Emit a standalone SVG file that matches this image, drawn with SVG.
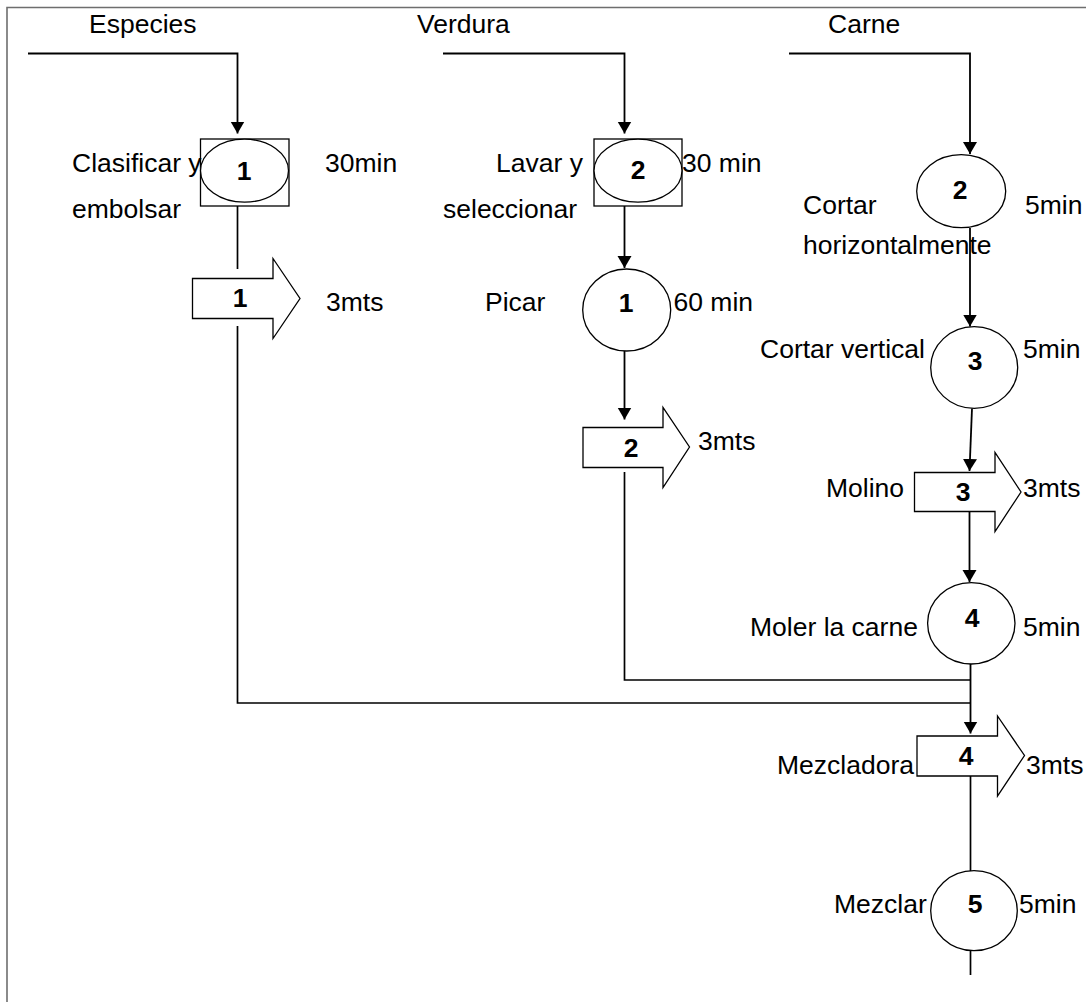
<svg xmlns="http://www.w3.org/2000/svg" width="1086" height="1002" viewBox="0 0 1086 1002">
<defs>
<marker id="ah" markerUnits="userSpaceOnUse" markerWidth="16" markerHeight="16" refX="12" refY="7" orient="auto">
<path d="M0,0 L12,7 L0,14 Z" fill="#000"/>
</marker>
<style>
.t{font-family:"Liberation Sans",Arial,sans-serif;font-size:26.5px;fill:#000}
.n{font-family:"Liberation Sans",Arial,sans-serif;font-size:26.5px;font-weight:bold;fill:#000;text-anchor:middle}
.c{fill:none;stroke:#000;stroke-width:1.7}
.ca{fill:none;stroke:#000;stroke-width:1.8;marker-end:url(#ah)}
.s{fill:#fff;stroke:#000;stroke-width:1.3}
.b{fill:none;stroke:#6e6e6e;stroke-width:1.6}
</style>
</defs>
<rect width="1086" height="1002" fill="#fff"/>
<g id="border">
<path class="b" d="M7,1002 V7.5 H1086"/>
</g>
<g id="connectors">
<path class="ca" d="M28,53.5 H237.5 V133.5"/>
<path class="c" d="M237.5,206 V269"/>
<path class="c" d="M237.5,326 V703 H970"/>
<path class="ca" d="M443,53.5 H624.5 V133.5"/>
<path class="ca" d="M624.5,206 V268"/>
<path class="ca" d="M624.5,351 V419.5"/>
<path class="c" d="M624.5,472 V680 H970"/>
<path class="ca" d="M789,53.5 H970 V154"/>
<path class="ca" d="M970,228 V326.5"/>
<path class="ca" d="M972,408.5 L969.5,471"/>
<path class="ca" d="M969.5,512 V582"/>
<path class="ca" d="M970.5,664 V733.5"/>
<path class="c" d="M970.5,776 V871"/>
<path class="c" d="M970.5,951 V975"/>
</g>
<g id="label-especies"><text class="t" x="89" y="33">Especies</text></g>
<g id="label-verdura"><text class="t" x="417" y="33">Verdura</text></g>
<g id="label-carne"><text class="t" x="828" y="33">Carne</text></g>
<g id="node-clasificar">
<rect class="s" x="200.5" y="139" width="88.5" height="67"/>
<ellipse class="s" cx="244.5" cy="170.7" rx="44" ry="31.5"/>
<text class="n" x="244" y="180">1</text>
<text class="t" x="72" y="172">Clasificar y</text>
<text class="t" x="72" y="218">embolsar</text>
<text class="t" x="325" y="172">30min</text>
</g>
<g id="node-transp1">
<path class="s" d="M192.5,278.5 H273 V258.5 L300,298.5 L273,338.5 V318.5 H192.5 Z"/>
<text class="n" x="240" y="307">1</text>
<text class="t" x="326" y="311">3mts</text>
</g>
<g id="node-lavar">
<rect class="s" x="594" y="139" width="88" height="67"/>
<ellipse class="s" cx="638" cy="170.7" rx="44" ry="31.5"/>
<text class="n" x="638" y="179">2</text>
<text class="t" x="496" y="172">Lavar y</text>
<text class="t" x="443" y="218">seleccionar</text>
<text class="t" x="682" y="172">30 min</text>
</g>
<g id="node-picar">
<ellipse class="s" cx="626.7" cy="310" rx="44" ry="41"/>
<text class="n" x="626" y="312">1</text>
<text class="t" x="485" y="311">Picar</text>
<text class="t" x="673.5" y="311">60 min</text>
</g>
<g id="node-transp2">
<path class="s" d="M583,427.5 H663 V407.5 L689.5,447 L663,487.5 V467.5 H583 Z"/>
<text class="n" x="631" y="457">2</text>
<text class="t" x="698" y="450">3mts</text>
</g>
<g id="node-cortar-h">
<ellipse class="s" cx="961.2" cy="191.2" rx="44.5" ry="36.5"/>
<text class="n" x="960" y="199">2</text>
<text class="t" x="803" y="214">Cortar</text>
<text class="t" x="803" y="254">horizontalmente</text>
<text class="t" x="1025" y="214">5min</text>
</g>
<g id="node-cortar-v">
<ellipse class="s" cx="974.2" cy="367.5" rx="43.5" ry="40.8"/>
<text class="n" x="975" y="370">3</text>
<text class="t" x="760" y="358">Cortar vertical</text>
<text class="t" x="1023" y="358">5min</text>
</g>
<g id="node-molino">
<path class="s" d="M914.5,472.5 H995 V452.5 L1021,492 L995,531.5 V511.5 H914.5 Z"/>
<text class="n" x="963" y="501">3</text>
<text class="t" x="826" y="497">Molino</text>
<text class="t" x="1023" y="497">3mts</text>
</g>
<g id="node-moler">
<ellipse class="s" cx="971.3" cy="623.3" rx="43.7" ry="40.7"/>
<text class="n" x="972" y="627">4</text>
<text class="t" x="750" y="636">Moler la carne</text>
<text class="t" x="1023" y="636">5min</text>
</g>
<g id="node-mezcladora">
<path class="s" d="M917,736 H997.5 V716 L1024.5,755.5 L997.5,796 V776 H917 Z"/>
<text class="n" x="966" y="765">4</text>
<text class="t" x="777" y="774">Mezcladora</text>
<text class="t" x="1026" y="774">3mts</text>
</g>
<g id="node-mezclar">
<ellipse class="s" cx="974" cy="910.7" rx="43.3" ry="40"/>
<text class="n" x="975" y="913">5</text>
<text class="t" x="834" y="913">Mezclar</text>
<text class="t" x="1019" y="913">5min</text>
</g>
</svg>
